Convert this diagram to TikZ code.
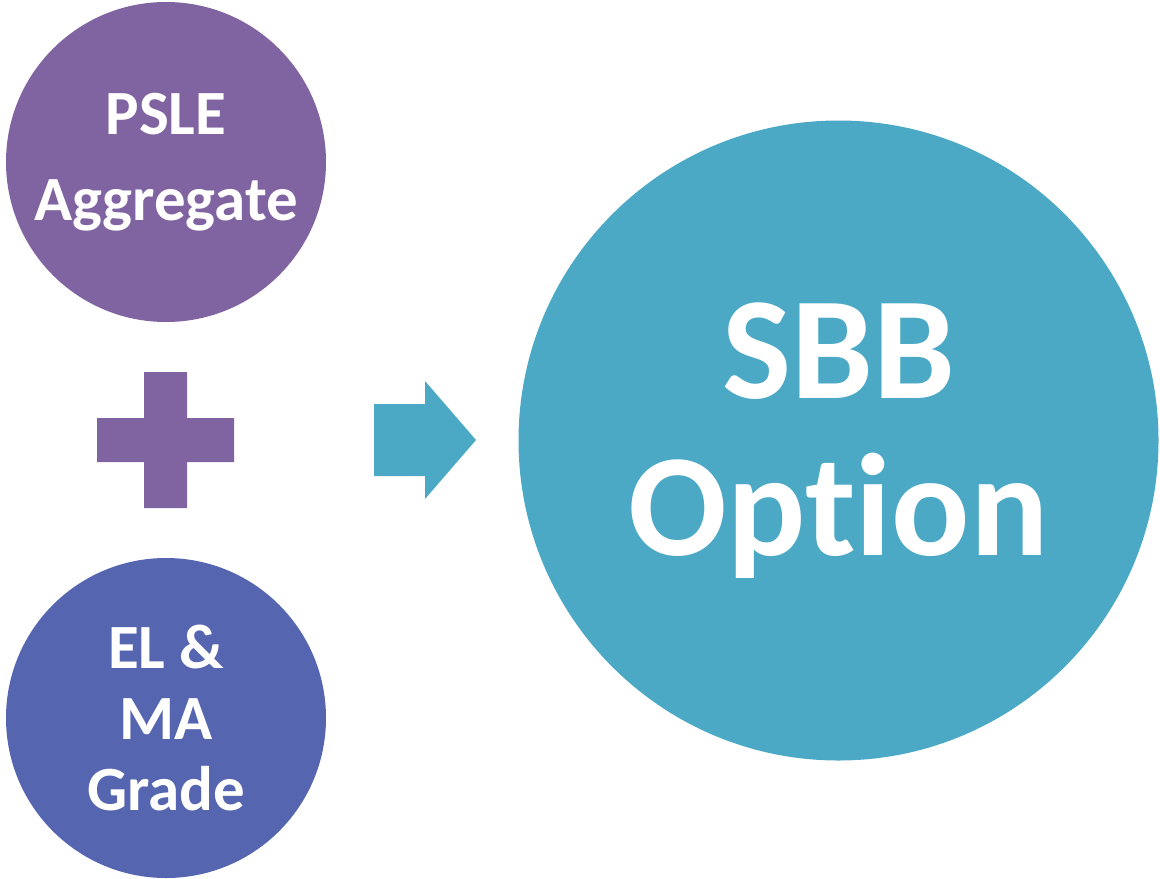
\documentclass[tikz,border=0pt]{standalone}
\usepackage{fontspec}
\setmainfont{Carlito}[Ligatures=NoCommon]
\definecolor{aggpurple}{HTML}{8064A2}
\definecolor{gradeblue}{HTML}{5565B0}
\definecolor{sbbteal}{HTML}{4BA9C6}

\begin{document}
\begin{tikzpicture}[x=0.5pt, y=-0.5pt, bubble/.style={circle, inner sep=0, text=white, align=center}]
\useasboundingbox (0,0) rectangle (1160,878);
\node[bubble, fill=aggpurple, minimum size=160pt, font=\bfseries\fontsize{31.5}{43}\selectfont] (agg) at (166,162) {PSLE\\Aggregate};
\node[bubble, fill=gradeblue, minimum size=160pt, font=\bfseries\fontsize{31.5}{35.5}\selectfont] (grd) at (166,718) {EL \&\\MA\\Grade};
\node[bubble, fill=sbbteal, minimum size=320pt, font=\bfseries\fontsize{73}{78.5}\selectfont] (sbb) at (838.5,440.5) {SBB\\Option};
% Plus and arrow:
\fill[aggpurple] (144,372) -- (187,372) -- (187,418) -- (234,418) -- (234,462) -- (187,462) -- (187,508) -- (144,508) -- (144,462) -- (97,462) -- (97,418) -- (144,418) -- cycle;
\fill[sbbteal] (374,404) -- (425,404) -- (425,381) -- (476,440) -- (425,499) -- (425,476) -- (374,476) -- cycle;
\end{tikzpicture}
\end{document}
